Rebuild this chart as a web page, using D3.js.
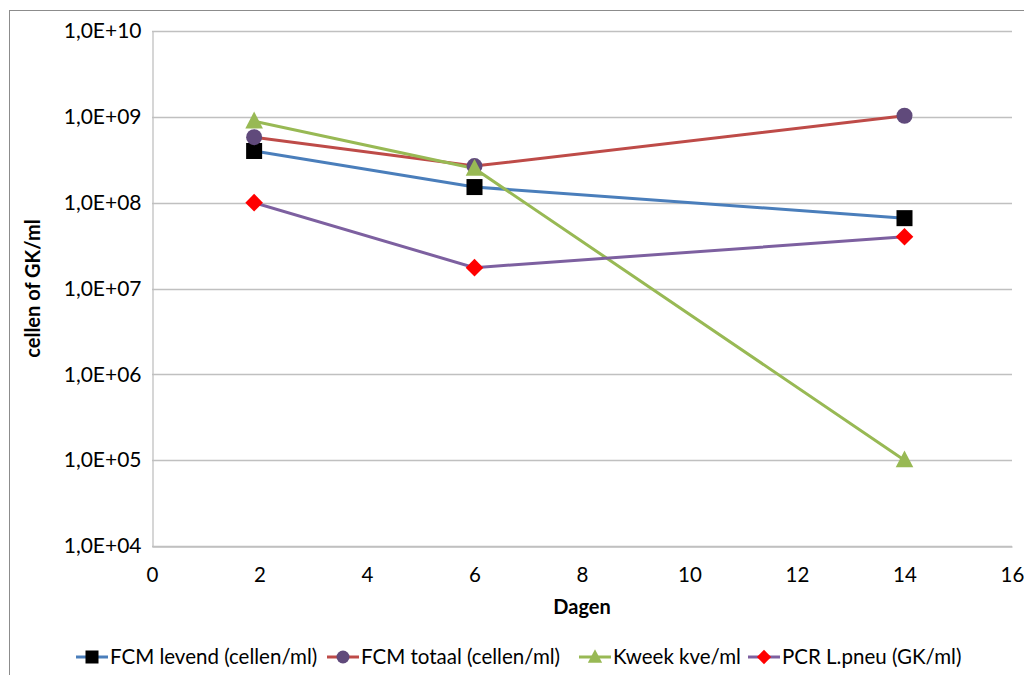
<!DOCTYPE html>
<html><head><meta charset="utf-8">
<script src="https://cdn.jsdelivr.net/npm/d3@7"></script>
<style>body{margin:0;background:#fff}svg{display:block}text{font-family:Lato,"Open Sans",sans-serif}</style>
</head><body><svg id="c" width="1024" height="675"></svg>
<script>
const days = [1.9, 6, 14];
const fcmLevend = [4.0e8, 1.52e8, 6.6e7];
const fcmTotaal = [5.8e8, 2.67e8, 1.03e9];
const kweek = [8.9e8, 2.5e8, 1.0e5];
const pcr = [1.0e8, 1.75e7, 4.0e7];
const xTicks = [0,2,4,6,8,10,12,14,16];
const yTicks = [1e4,1e5,1e6,1e7,1e8,1e9,1e10];
const seriesNames = ["FCM levend (cellen/ml)","FCM totaal (cellen/ml)","Kweek kve/ml","PCR L.pneu (GK/ml)"];

const series = [
  {name:seriesNames[0], vals:fcmLevend, line:"#4a7ebb", fill:"#000000", shape:"square"},
  {name:seriesNames[1], vals:fcmTotaal, line:"#be4b48", fill:"#604a7b", shape:"circle"},
  {name:seriesNames[2], vals:kweek, line:"#98b954", fill:"#98b954", shape:"triangle"},
  {name:seriesNames[3], vals:pcr, line:"#7d60a0", fill:"#ff0000", shape:"diamond"}
];

const svg = d3.select("#c");
const L=152, R=1012, T=31, B=546;
const x = d3.scaleLinear().domain([0,16]).range([L,R]);
const y = d3.scaleLog().domain([1e4,1e10]).range([B,T]);

// chart border
svg.append("rect").attr("x",9.5).attr("y",10.5).attr("width",1030).attr("height",700)
  .attr("fill","none").attr("stroke","#8c8c8c").attr("stroke-width",1);

// gridlines
svg.append("g").selectAll("line").data(yTicks).join("line")
  .attr("x1",L).attr("x2",R).attr("y1",d=>Math.round(y(d))+0.5).attr("y2",d=>Math.round(y(d))+0.5)
  .attr("stroke","#c0c0c0").attr("stroke-width",1.3);

// axes
const fmt = d => "1,0E+" + String(Math.round(Math.log10(d))).padStart(2,"0");
const ya = svg.append("g").attr("transform",`translate(${L+0.5},0)`)
  .call(d3.axisLeft(y).tickValues(yTicks).tickFormat(fmt).tickSize(0).tickPadding(11));
ya.select(".domain").attr("stroke","#c0c0c0").attr("stroke-width",1.3);
ya.selectAll("text").attr("font-size",21).attr("fill","#000");

const xa = svg.append("g").attr("transform",`translate(0,${B+0.5})`)
  .call(d3.axisBottom(x).tickValues(xTicks).tickFormat(d3.format("d")).tickSize(0).tickPadding(21));
xa.select(".domain").attr("stroke","#c0c0c0").attr("stroke-width",1.3);
xa.selectAll("text").attr("font-size",20.5).attr("fill","#000");

// titles
svg.append("text").attr("x",582).attr("y",614).attr("text-anchor","middle")
  .attr("font-size",20).attr("font-weight","bold").text("Dagen");
svg.append("text").attr("transform",`translate(40,${(T+B)/2}) rotate(-90)`).attr("text-anchor","middle")
  .attr("font-size",20).attr("font-weight","bold").text("cellen of GK/ml");

function marker(g, shape, fill, cx, cy, s) {
  if (shape==="square") g.append("rect").attr("x",cx-s/2).attr("y",cy-s/2).attr("width",s).attr("height",s).attr("fill",fill);
  else if (shape==="circle") g.append("circle").attr("cx",cx).attr("cy",cy).attr("r",s/2).attr("fill",fill);
  else if (shape==="triangle") g.append("path").attr("d",`M${cx},${cy-s*0.6}L${cx+s*0.55},${cy+s*0.45}L${cx-s*0.55},${cy+s*0.45}Z`).attr("fill",fill);
  else if (shape==="diamond") g.append("path").attr("d",`M${cx},${cy-s*0.55}L${cx+s*0.55},${cy}L${cx},${cy+s*0.55}L${cx-s*0.55},${cy}Z`).attr("fill",fill);
}

const line = d3.line().x((d,i)=>x(days[i])).y(d=>y(d));
series.forEach(s=>{
  svg.append("path").attr("d",line(s.vals)).attr("fill","none").attr("stroke",s.line).attr("stroke-width",3);
});
series.forEach(s=>{
  const g = svg.append("g");
  s.vals.forEach((v,i)=>marker(g,s.shape,s.fill,x(days[i]),y(v),16));
});

// legend
const legX = [76, 327, 579, 748];
const ly = 657;
series.forEach((s,i)=>{
  const g = svg.append("g");
  g.append("line").attr("x1",legX[i]).attr("x2",legX[i]+32).attr("y1",ly).attr("y2",ly).attr("stroke",s.line).attr("stroke-width",3);
  marker(g,s.shape,s.fill,legX[i]+16,ly,13);
  g.append("text").attr("x",legX[i]+34).attr("y",ly+7).attr("font-size",20.5).text(s.name);
});
</script></body></html>
